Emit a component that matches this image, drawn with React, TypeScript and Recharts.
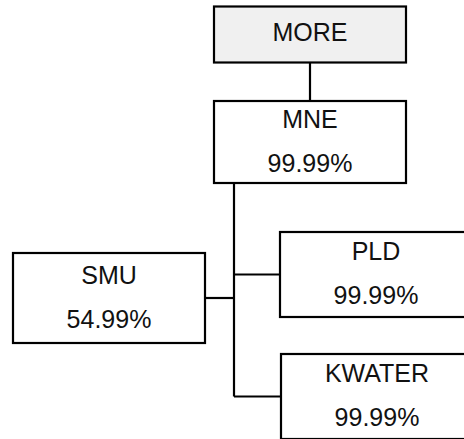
import { ReferenceLine, Scatter, ScatterChart, XAxis, YAxis } from 'recharts';

// org units, top to bottom
const unitNames = ['MORE', 'MNE', 'PLD', 'SMU', 'KWATER'];
const unitRates = ['', '99.99%', '99.99%', '54.99%', '99.99%'];
const unitParents = ['', 'MORE', 'MNE', 'MNE', 'MNE'];

// layout slots (chart units, 1 unit = 1px)
const slotX = [310, 310, 376, 109, 377];
const slotY = [34.5, 142, 274.5, 298, 396.5];
const slotH = [56, 82, 85, 90, 85];

const BOX_W = 192;
const TRUNK_X = 234;
const WIDTH = 464;
const HEIGHT = 439;
const FONT = '"Liberation Sans", Arial, sans-serif';
const FONT_SIZE = 25;

const nodes = unitNames.map((name, i) => ({
  name,
  rate: unitRates[i],
  parent: unitParents[i],
  x: slotX[i],
  y: slotY[i],
  h: slotH[i],
  root: unitParents[i] === '',
}));

const byName = Object.fromEntries(nodes.map((n) => [n.name, n]));

// connector segments built from node boxes
function buildLinks() {
  const segs: { x: number; y: number }[][] = [];
  nodes.forEach((n) => {
    if (!n.parent) return;
    const p = byName[n.parent];
    if (p.root) {
      segs.push([
        { x: p.x, y: p.y + p.h / 2 },
        { x: n.x, y: n.y - n.h / 2 },
      ]);
      return;
    }
    const side = n.x > TRUNK_X ? n.x - BOX_W / 2 : n.x + BOX_W / 2;
    segs.push([
      { x: TRUNK_X, y: n.y },
      { x: side, y: n.y },
    ]);
  });
  const kids = nodes.filter((n) => n.parent && !byName[n.parent].root);
  const parent = byName[kids[0].parent];
  const lowest = Math.max(...kids.map((k) => k.y));
  segs.push([
    { x: TRUNK_X, y: parent.y + parent.h / 2 },
    { x: TRUNK_X, y: lowest },
  ]);
  return segs;
}

const links = buildLinks();

const UnitBox = (props: any) => {
  const { cx, cy, payload } = props;
  const h = payload.h;
  const label = { textAnchor: 'middle' as const, dominantBaseline: 'central' as const, fontSize: FONT_SIZE, fill: '#111', fontFamily: FONT };
  return (
    <g>
      <rect
        x={cx - BOX_W / 2}
        y={cy - h / 2}
        width={BOX_W}
        height={h}
        fill={payload.root ? '#f0f0f0' : '#ffffff'}
        stroke="#000"
        strokeWidth={2.2}
      />
      {payload.root ? (
        <text x={cx} y={cy - 2.5} {...label}>
          {payload.name}
        </text>
      ) : (
        <>
          <text x={cx} y={cy - 23.5} {...label}>
            {payload.name}
          </text>
          <text x={cx} y={cy + 20.5} {...label}>
            {payload.rate}
          </text>
        </>
      )}
    </g>
  );
};

export default function App() {
  return (
    <div style={{ position: 'absolute', left: 0, top: 0, width: WIDTH, height: HEIGHT, background: '#fff' }}>
      <ScatterChart width={WIDTH} height={HEIGHT} margin={{ top: 0, right: 0, bottom: 0, left: 0 }}>
        <XAxis type="number" dataKey="x" domain={[0, WIDTH]} allowDataOverflow hide />
        <YAxis type="number" dataKey="y" domain={[0, HEIGHT]} allowDataOverflow reversed hide />
        {links.map((seg, i) => (
          <ReferenceLine key={i} segment={seg} stroke="#000" strokeWidth={2.2} ifOverflow="visible" />
        ))}
        <Scatter data={nodes} shape={<UnitBox />} isAnimationActive={false} />
      </ScatterChart>
    </div>
  );
}
